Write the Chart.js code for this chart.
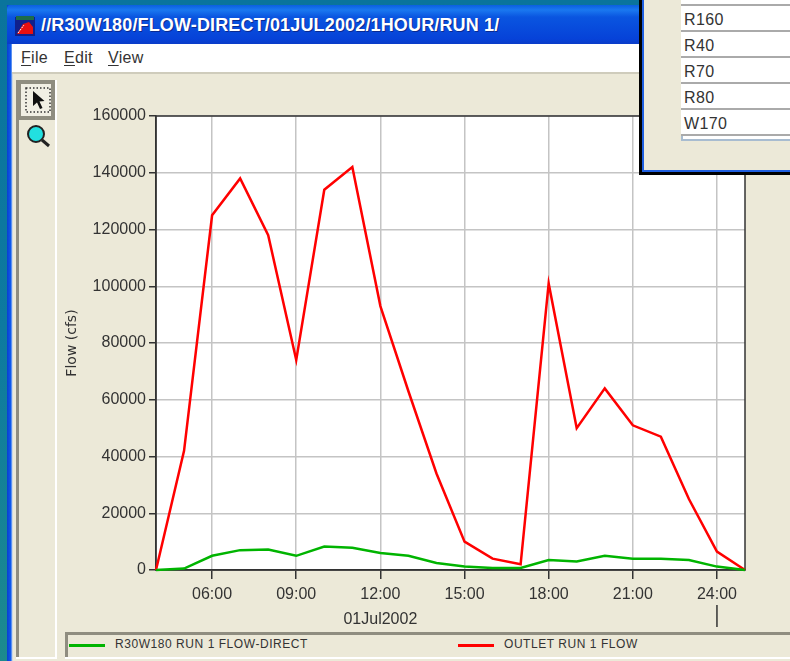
<!DOCTYPE html>
<html>
  <head>
    <title>Flow chart</title>
    <script src="https://cdn.jsdelivr.net/npm/chart.js"></script>
    <style>
      html, body { margin: 0; padding: 0; }
      body { width: 790px; height: 661px; overflow: hidden; position: relative; font-family: "Liberation Sans", sans-serif; color: #333;
        background: linear-gradient(#0a749c, #0d7aa0 50%, #1c8a8e); }
      .box { position: absolute; box-sizing: border-box; }
      #myChart { position: absolute; left: 0; top: 0; }
      #menu span { position: absolute; top: 49px; font-size: 16px; letter-spacing: 0.3px; }
      #menu u { text-underline-offset: 2px; }
      .legendItem { position: absolute; top: 637px; font-size: 12px; letter-spacing: 0.55px; color: #333; white-space: nowrap; }
      .legendLine { position: absolute; top: 644px; height: 3px; width: 36px; }
      .row { position: absolute; left: 681px; width: 109px; height: 26px; background: #fff; border-bottom: 2px solid #aaa; box-sizing: border-box; font-size: 16px; line-height: 27px; padding-left: 3px; letter-spacing: 0.4px; }
    </style>
  </head>
  <body>
    <!-- window frame -->
    <div class="box" style="left:7px;top:5px;width:783px;height:656px;background:linear-gradient(90deg,#0a3fd0,#0f5cf0 4px,#a8c4f0 5px,#ece9d8 6px);"></div>
    <div class="box" style="left:7px;top:5px;width:783px;height:39px;background:linear-gradient(#0b5fe0,#1a78f0 5px,#0a55e0 12px,#0642d8 34px,#0a3cc8);border-radius:4px 0 0 0;"></div>
    <div class="box" style="left:12px;top:44px;width:778px;height:28px;background:#fff;"></div>
    <div class="box" style="left:12px;top:72px;width:778px;height:2px;background:#cfccbc;"></div>

    <svg class="box" style="left:15px;top:15px;" width="21" height="21" viewBox="0 0 21 21">
      <rect x="0" y="2" width="20" height="19" fill="#10208c"/>
      <rect x="1" y="1" width="18" height="4" fill="#1d6b4a"/>
      <path d="M2 19 L8 9 L14 7 L18 12 L18 19 Z" fill="#e81010"/>
      <path d="M3 18 L9 10" stroke="#fff" stroke-width="1" stroke-dasharray="2 1"/>
    </svg>
    <div class="box" style="left:41px;top:15px;color:#fff;font-weight:bold;font-size:18px;white-space:nowrap;letter-spacing:0.15px;text-shadow:1px 1px 0 #0a2a90;">//R30W180/FLOW-DIRECT/01JUL2002/1HOUR/RUN 1/</div>

    <div id="menu">
      <span style="left:21px;"><u>F</u>ile</span>
      <span style="left:64px;"><u>E</u>dit</span>
      <span style="left:108px;"><u>V</u>iew</span>
    </div>

    <!-- toolbar -->
    <div class="box" style="left:16px;top:80px;width:3px;height:579px;background:#8f8d80;"></div>
    <div class="box" style="left:16px;top:657px;width:41px;height:2px;background:#fff;"></div>
    <div class="box" style="left:55px;top:80px;width:2px;height:579px;background:#fff;"></div>
    <div class="box" style="left:17px;top:80px;width:38px;height:40px;background:#f1efe4;border:4px solid #8f8d80;"></div>
    <svg class="box" style="left:25px;top:87px;" width="26" height="26" viewBox="0 0 26 26">
      <rect x="1" y="1" width="24" height="24" fill="none" stroke="#333" stroke-width="1.5" stroke-dasharray="1.5 2"/>
      <path d="M8 4 L8 19 L12 15.5 L15 22 L17.5 21 L14.5 14.5 L19.5 14 Z" fill="#111"/>
    </svg>
    <svg class="box" style="left:25px;top:123px;" width="26" height="26" viewBox="0 0 26 26">
      <line x1="17" y1="17" x2="24" y2="23" stroke="#222" stroke-width="3"/>
      <circle cx="11" cy="11" r="8" fill="#22e0e0" stroke="#222" stroke-width="2"/>
    </svg>

    <!-- legend panel -->
    <div class="box" style="left:65px;top:632px;width:725px;height:25px;border-top:3px solid #8f8d80;border-left:3px solid #8f8d80;"></div>
    <div class="box" style="left:65px;top:657px;width:725px;height:2px;background:#fff;"></div>
    <div id="legend"></div>

    <canvas id="myChart" width="790" height="661"></canvas>

    <!-- popup window over the top right corner -->
    <div class="box" style="left:639px;top:0;width:151px;height:175px;background:#ece9d8;border-left:3px solid #000;border-bottom:3px solid #000;box-shadow:inset 2px -2px 0 #1f5fe0;"></div>
    <div class="box" style="left:681px;top:0;width:109px;height:141px;background:#fff;border-left:2px solid #a8bcd0;border-bottom:2px solid #a8bcd0;"></div>
    <div id="rows"></div>

    <script>
      const hours = [4, 5, 6, 7, 8, 9, 10, 11, 12, 13, 14, 15, 16, 17, 18, 19, 20, 21, 22, 23, 24, 25];
      const directFlow = [0, 500, 5000, 7000, 7200, 5000, 8300, 7800, 6000, 5000, 2500, 1200, 700, 700, 3500, 3000, 5000, 4000, 4000, 3500, 1200, 0];
      const outletFlow = [0, 42000, 125000, 138000, 118000, 74000, 134000, 142000, 93000, 63000, 34000, 10000, 4000, 2000, 101000, 50000, 64000, 51000, 47000, 25000, 6500, 0];
      const xTicks = [6, 9, 12, 15, 18, 21, 24];
      const xTickLabels = ['06:00', '09:00', '12:00', '15:00', '18:00', '21:00', '24:00'];
      const yTicks = [0, 20000, 40000, 60000, 80000, 100000, 120000, 140000, 160000];
      const dateLabel = '01Jul2002';
      const dateTickHour = 12;
      const dayEndHour = 24;
      const directName = 'R30W180 RUN 1 FLOW-DIRECT';
      const outletName = 'OUTLET RUN 1 FLOW';
      const popupRows = ['R160', 'R40', 'R70', 'R80', 'W170'];

      function toPoints(values) {
        const points = [];
        for (let i = 0; i < hours.length; i++) {
          points.push({ x: hours[i], y: values[i] });
        }
        return points;
      }

      // table rows of the window behind
      const rowsDiv = document.getElementById('rows');
      rowsDiv.innerHTML += '<div class="row" style="top:-20px"></div>';
      popupRows.forEach((name, i) => {
        rowsDiv.innerHTML += '<div class="row" style="top:' + (6 + i * 26) + 'px">' + name + '</div>';
      });

      const legendDiv = document.getElementById('legend');
      legendDiv.innerHTML =
        '<div class="legendLine" style="left:69px;background:#00b400"></div>' +
        '<div class="legendItem" style="left:115px">' + directName + '</div>' +
        '<div class="legendLine" style="left:458px;background:#ff0000"></div>' +
        '<div class="legendItem" style="left:504px">' + outletName + '</div>';

      const framePlugin = {
        id: 'frame',
        beforeDraw(chart) {
          const a = chart.chartArea;
          chart.ctx.fillStyle = '#fff';
          chart.ctx.fillRect(a.left, a.top, a.width, a.height);
        },
        beforeDatasetsDraw(chart) {
          const a = chart.chartArea;
          const ctx = chart.ctx;
          ctx.save();
          ctx.strokeStyle = '#333';
          ctx.lineWidth = 1.5;
          ctx.strokeRect(a.left, a.top, a.width, a.height);
          ctx.restore();
        },
        afterDraw(chart) {
          // day separator below the last tick
          const ctx = chart.ctx;
          const x = chart.scales.x.getPixelForValue(dayEndHour);
          ctx.save();
          ctx.strokeStyle = '#333';
          ctx.lineWidth = 1.5;
          ctx.beginPath();
          ctx.moveTo(x, 605);
          ctx.lineTo(x, 627);
          ctx.stroke();
          ctx.restore();
        },
      };

      const tickFont = { family: '"Liberation Sans", sans-serif', size: 16, lineHeight: 1.55 };

      new Chart(document.getElementById('myChart').getContext('2d'), {
        type: 'line',
        data: {
          datasets: [
            {
              label: directName,
              data: toPoints(directFlow),
              borderColor: '#00b400',
              borderWidth: 2.5,
              pointRadius: 0,
              tension: 0,
              clip: false,
            },
            {
              label: outletName,
              data: toPoints(outletFlow),
              borderColor: '#ff0000',
              borderWidth: 2.5,
              pointRadius: 0,
              tension: 0,
              clip: false,
            },
          ],
        },
        options: {
          responsive: false,
          animation: false,
          layout: { padding: { left: 64, top: 116, right: 45, bottom: 0 } },
          plugins: { legend: { display: false }, tooltip: { enabled: false } },
          scales: {
            x: {
              type: 'linear',
              min: 4,
              max: 25,
              afterBuildTicks(scale) {
                scale.ticks = xTicks.map((v) => ({ value: v }));
              },
              afterFit(scale) {
                scale.height = 91;
              },
              grid: { color: '#c4c4c4', lineWidth: 1.5, tickLength: 9, tickColor: '#333', tickWidth: 1.5 },
              border: { color: '#333', width: 1.5 },
              ticks: {
                color: '#333',
                font: tickFont,
                padding: 3,
                maxRotation: 0,
                autoSkip: false,
                callback(value) {
                  const label = xTickLabels[xTicks.indexOf(value)];
                  return value === dateTickHour ? [label, dateLabel] : label;
                },
              },
            },
            y: {
              min: 0,
              max: 160000,
              afterBuildTicks(scale) {
                scale.ticks = yTicks.map((v) => ({ value: v }));
              },
              afterFit(scale) {
                scale.width = 92;
              },
              grid: { color: '#c4c4c4', lineWidth: 1.5, tickLength: 7, tickColor: '#333', tickWidth: 1.5 },
              border: { color: '#333', width: 1.5 },
              title: {
                display: true,
                text: 'Flow (cfs)',
                color: '#333',
                font: { family: '"DejaVu Sans", sans-serif', size: 14 },
                padding: 0,
              },
              ticks: {
                color: '#333',
                font: { family: '"Liberation Sans", sans-serif', size: 16 },
                padding: 3,
                autoSkip: false,
                callback: (value) => String(value),
              },
            },
          },
        },
        plugins: [framePlugin],
      });
    </script>
  </body>
</html>
